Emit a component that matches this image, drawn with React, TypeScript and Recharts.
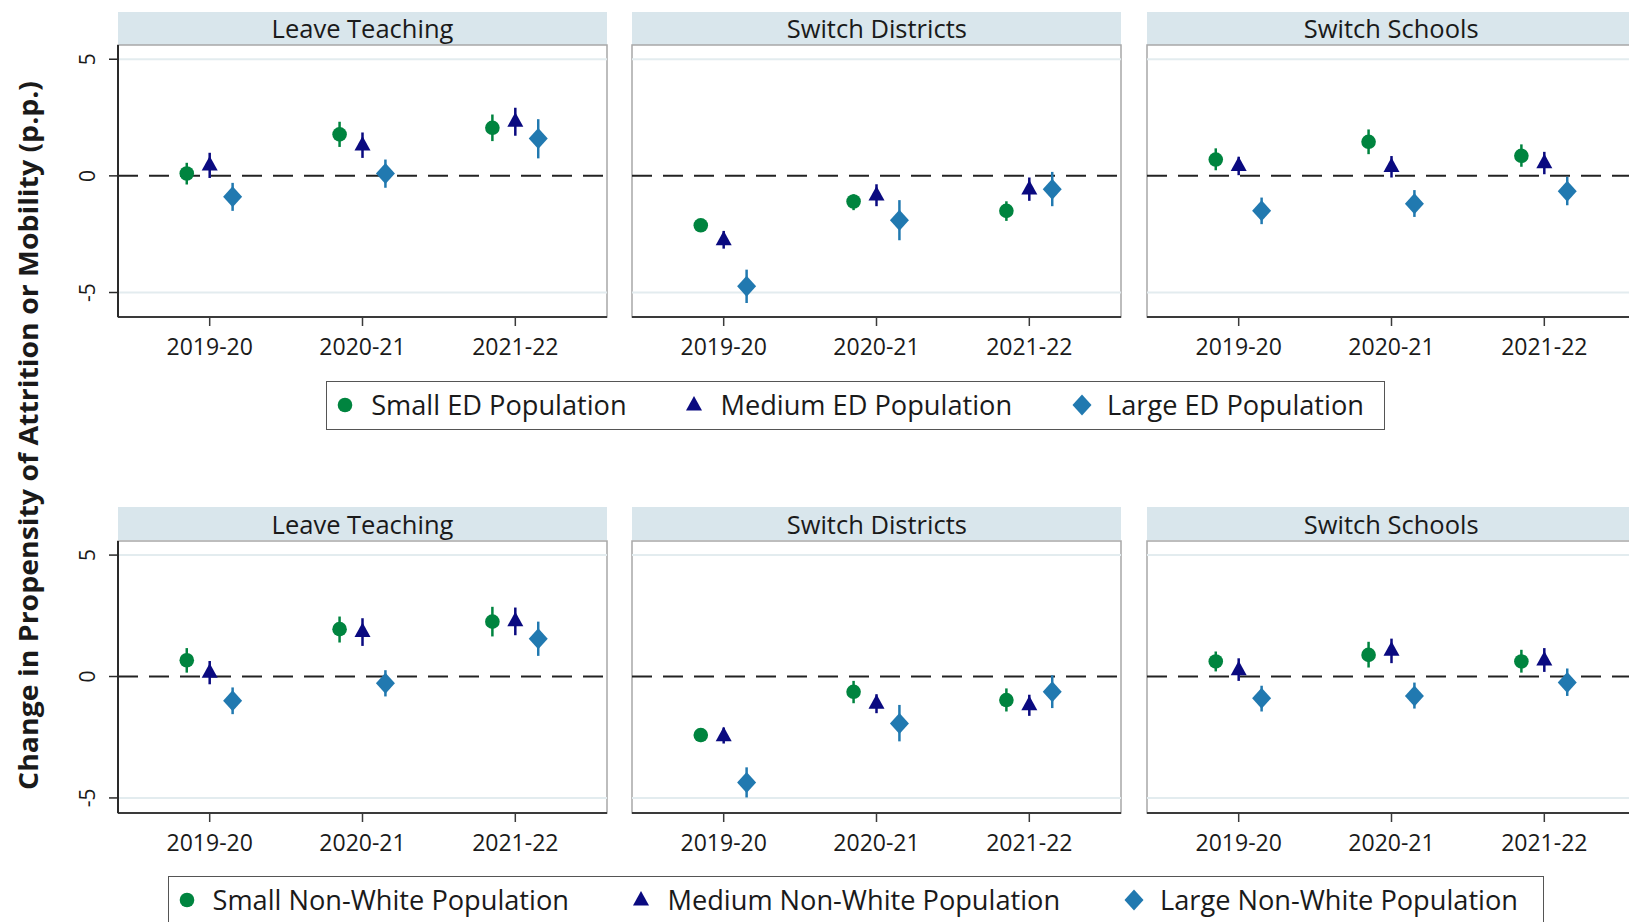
import { ErrorBar, ReferenceArea, ReferenceLine, Scatter, ScatterChart, XAxis, YAxis } from 'recharts';

const YEARS = ['2019-20', '2020-21', '2021-22'];
const OUTCOMES = ['Leave Teaching', 'Switch Districts', 'Switch Schools'];
const ED_SERIES = ['Small ED Population', 'Medium ED Population', 'Large ED Population'];
const NW_SERIES = ['Small Non-White Population', 'Medium Non-White Population', 'Large Non-White Population'];

// rows: small, medium, large; columns: years
const edLeaveEst = [[0.1, 1.78, 2.06], [0.47, 1.32, 2.34], [-0.9, 0.1, 1.6]];
const edLeaveLo = [[-0.37, 1.24, 1.49], [-0.09, 0.77, 1.72], [-1.5, -0.51, 0.75]];
const edLeaveHi = [[0.56, 2.32, 2.63], [0.99, 1.86, 2.92], [-0.3, 0.7, 2.43]];

const edDistEst = [[-2.12, -1.1, -1.5], [-2.74, -0.82, -0.56], [-4.73, -1.9, -0.57]];
const edDistLo = [[-2.35, -1.47, -1.93], [-3.12, -1.3, -1.07], [-5.45, -2.76, -1.3]];
const edDistHi = [[-1.9, -0.79, -1.09], [-2.36, -0.36, -0.07], [-4.02, -1.04, 0.17]];

const edSchEst = [[0.7, 1.46, 0.86], [0.44, 0.4, 0.56], [-1.5, -1.19, -0.66]];
const edSchLo = [[0.24, 0.93, 0.39], [0.03, -0.07, 0.07], [-2.07, -1.76, -1.26]];
const edSchHi = [[1.18, 1.99, 1.35], [0.82, 0.85, 1.03], [-0.93, -0.61, -0.04]];

const nwLeaveEst = [[0.67, 1.95, 2.26], [0.18, 1.85, 2.3], [-1.0, -0.28, 1.56]];
const nwLeaveLo = [[0.16, 1.4, 1.65], [-0.32, 1.26, 1.7], [-1.55, -0.82, 0.85]];
const nwLeaveHi = [[1.17, 2.47, 2.87], [0.64, 2.4, 2.84], [-0.45, 0.26, 2.26]];

const nwDistEst = [[-2.41, -0.63, -0.97], [-2.44, -1.1, -1.16], [-4.36, -1.93, -0.63]];
const nwDistLo = [[-2.7, -1.1, -1.44], [-2.76, -1.51, -1.62], [-4.98, -2.67, -1.3]];
const nwDistHi = [[-2.15, -0.18, -0.49], [-2.1, -0.73, -0.75], [-3.74, -1.17, 0.05]];

const nwSchEst = [[0.62, 0.89, 0.62], [0.28, 1.08, 0.68], [-0.9, -0.8, -0.25]];
const nwSchLo = [[0.21, 0.37, 0.16], [-0.18, 0.55, 0.19], [-1.44, -1.32, -0.8]];
const nwSchHi = [[1.03, 1.43, 1.1], [0.75, 1.56, 1.17], [-0.38, -0.25, 0.33]];

const Y_TICKS = [-5, 0, 5];

const GREEN = '#00843f';
const NAVY = '#0a0a80';
const BLUE = '#2179b0';
const COLORS = [GREEN, NAVY, BLUE];
const DODGE = [-0.15, 0, 0.15];

const PANEL_W = 489;
const PLOT_H = 272;
const AXIS_W = 60;
const XAXIS_H = 50;
const PANEL_LEFT = [118, 632.3, 1146.7];
const TEXT = '#1a1a1a';

const ROWS = [
  {
    stripTop: 11.7,
    plotTop: 45,
    domain: [-6.05, 5.61],
    est: [edLeaveEst, edDistEst, edSchEst],
    lo: [edLeaveLo, edDistLo, edSchLo],
    hi: [edLeaveHi, edDistHi, edSchHi],
    names: ED_SERIES,
    legend: { left: 325.7, top: 380.7, width: 1059.3, height: 49.3, marks: [344, 693, 1080.6], texts: [371.7, 721, 1107.5] },
  },
  {
    stripTop: 506.7,
    plotTop: 540.5,
    domain: [-5.62, 5.58],
    est: [nwLeaveEst, nwDistEst, nwSchEst],
    lo: [nwLeaveLo, nwDistLo, nwSchLo],
    hi: [nwLeaveHi, nwDistHi, nwSchHi],
    names: NW_SERIES,
    legend: { left: 168, top: 875.5, width: 1376, height: 52, marks: [186, 640, 1132.5], texts: [213, 668, 1160.5] },
  },
];

function Marker({ kind, cx, cy, color }: { kind: number; cx: number; cy: number; color: string }) {
  if (kind === 0) return <circle cx={cx} cy={cy} r={7.3} fill={color} />;
  if (kind === 1) {
    return <polygon points={`${cx},${cy - 9} ${cx + 8},${cy + 5.5} ${cx - 8},${cy + 5.5}`} fill={color} />;
  }
  return <polygon points={`${cx},${cy - 10.5} ${cx + 9.5},${cy} ${cx},${cy + 10.5} ${cx - 9.5},${cy}`} fill={color} />;
}

function YTick(props: any) {
  const { x, y, payload } = props;
  const tx = x - 20;
  return (
    <text x={tx} y={y} transform={`rotate(-90 ${tx} ${y})`} textAnchor="middle" dominantBaseline="central" fontSize={21} fill={TEXT}>
      {payload.value}
    </text>
  );
}

function Panel({ row, idx }: { row: (typeof ROWS)[number]; idx: number }) {
  const left = PANEL_LEFT[idx];
  const first = idx === 0;
  const series = COLORS.map((_, s) =>
    YEARS.map((_, i) => {
      const v = row.est[idx][s][i];
      return { x: i + 1 + DODGE[s], y: v, err: [v - row.lo[idx][s][i], row.hi[idx][s][i] - v] };
    }),
  );

  return (
    <>
      <div
        style={{
          position: 'absolute',
          left,
          top: row.stripTop,
          width: PANEL_W,
          height: row.plotTop - row.stripTop,
          background: '#d9e6ec',
          color: TEXT,
          fontSize: 25.5,
          display: 'flex',
          alignItems: 'center',
          justifyContent: 'center',
        }}
      >
        {OUTCOMES[idx]}
      </div>
      <div style={{ position: 'absolute', left: left - AXIS_W, top: row.plotTop - 1 }}>
        <ScatterChart width={AXIS_W + PANEL_W + 1} height={1 + PLOT_H + XAXIS_H} margin={{ top: 1, right: 1, bottom: 0, left: 0 }}>
          <XAxis
            type="number"
            dataKey="x"
            domain={[0.4, 3.6]}
            ticks={[1, 2, 3]}
            interval={0}
            allowDataOverflow
            height={XAXIS_H}
            tickFormatter={(v) => YEARS[v - 1]}
            axisLine={{ stroke: '#3a3a3a', strokeWidth: 2 }}
            tickLine={{ stroke: '#3a3a3a', strokeWidth: 1.5 }}
            tickSize={9}
            tickMargin={13}
            tick={{ fontSize: 23, fill: TEXT }}
          />
          <YAxis
            type="number"
            dataKey="y"
            domain={row.domain}
            ticks={Y_TICKS}
            allowDataOverflow
            width={AXIS_W}
            axisLine={first ? { stroke: '#2a2a2a', strokeWidth: 2 } : false}
            tickLine={first ? { stroke: '#2a2a2a', strokeWidth: 1.5 } : false}
            tick={first ? <YTick /> : false}
            tickSize={9}
            tickMargin={2}
          />
          <ReferenceArea x1={0.4} x2={3.6} y1={row.domain[0]} y2={row.domain[1]} fill="none" stroke="#a8a8a8" strokeWidth={1.5} />
          <ReferenceLine y={5} stroke="#e3ecef" strokeWidth={2} />
          <ReferenceLine y={-5} stroke="#e3ecef" strokeWidth={2} />
          <ReferenceLine y={0} stroke="#222" strokeWidth={2} strokeDasharray="20 11" />
          {series.map((data, s) => (
            <Scatter
              key={s}
              data={data}
              isAnimationActive={false}
              shape={(p: any) => <Marker kind={s} cx={p.cx} cy={p.cy} color={COLORS[s]} />}
            >
              <ErrorBar dataKey="err" direction="y" width={0} stroke={COLORS[s]} strokeWidth={2.5} isAnimationActive={false} />
            </Scatter>
          ))}
        </ScatterChart>
      </div>
    </>
  );
}

function Legend({ row }: { row: (typeof ROWS)[number] }) {
  const lg = row.legend;
  return (
    <div
      style={{
        position: 'absolute',
        left: lg.left,
        top: lg.top,
        width: lg.width,
        height: lg.height,
        boxSizing: 'border-box',
        border: '1.5px solid #555',
      }}
    >
      {row.names.map((name, s) => (
        <div key={name}>
          <svg style={{ position: 'absolute', left: lg.marks[s] - lg.left - 12, top: 24.5 - 12 - 1.5 }} width={24} height={24}>
            <Marker kind={s} cx={12} cy={12} color={COLORS[s]} />
          </svg>
          <span
            style={{
              position: 'absolute',
              left: lg.texts[s] - lg.left - 1.5,
              top: 24.5 - 1.5,
              transform: 'translateY(-50%)',
              fontSize: 27.2,
              color: TEXT,
              whiteSpace: 'nowrap',
              lineHeight: 1,
            }}
          >
            {name}
          </span>
        </div>
      ))}
    </div>
  );
}

export default function App() {
  return (
    <div
      style={{
        position: 'fixed',
        left: 0,
        top: 0,
        width: 1629,
        height: 922,
        overflow: 'hidden',
        background: '#fff',
        fontFamily: "'Open Sans', sans-serif",
      }}
    >
      <svg style={{ position: 'absolute', left: 0, top: 0 }} width={60} height={922}>
        <text
          x={27}
          y={435.5}
          transform="rotate(-90 27 435.5)"
          textAnchor="middle"
          dominantBaseline="central"
          fontSize={27}
          fontWeight={700}
          fill={TEXT}
          textLength={709}
          lengthAdjust="spacingAndGlyphs"
        >
          Change in Propensity of Attrition or Mobility (p.p.)
        </text>
      </svg>
      {ROWS.map((row, r) => (
        <div key={r}>
          {OUTCOMES.map((_, i) => (
            <Panel key={i} row={row} idx={i} />
          ))}
          <Legend row={row} />
        </div>
      ))}
    </div>
  );
}
